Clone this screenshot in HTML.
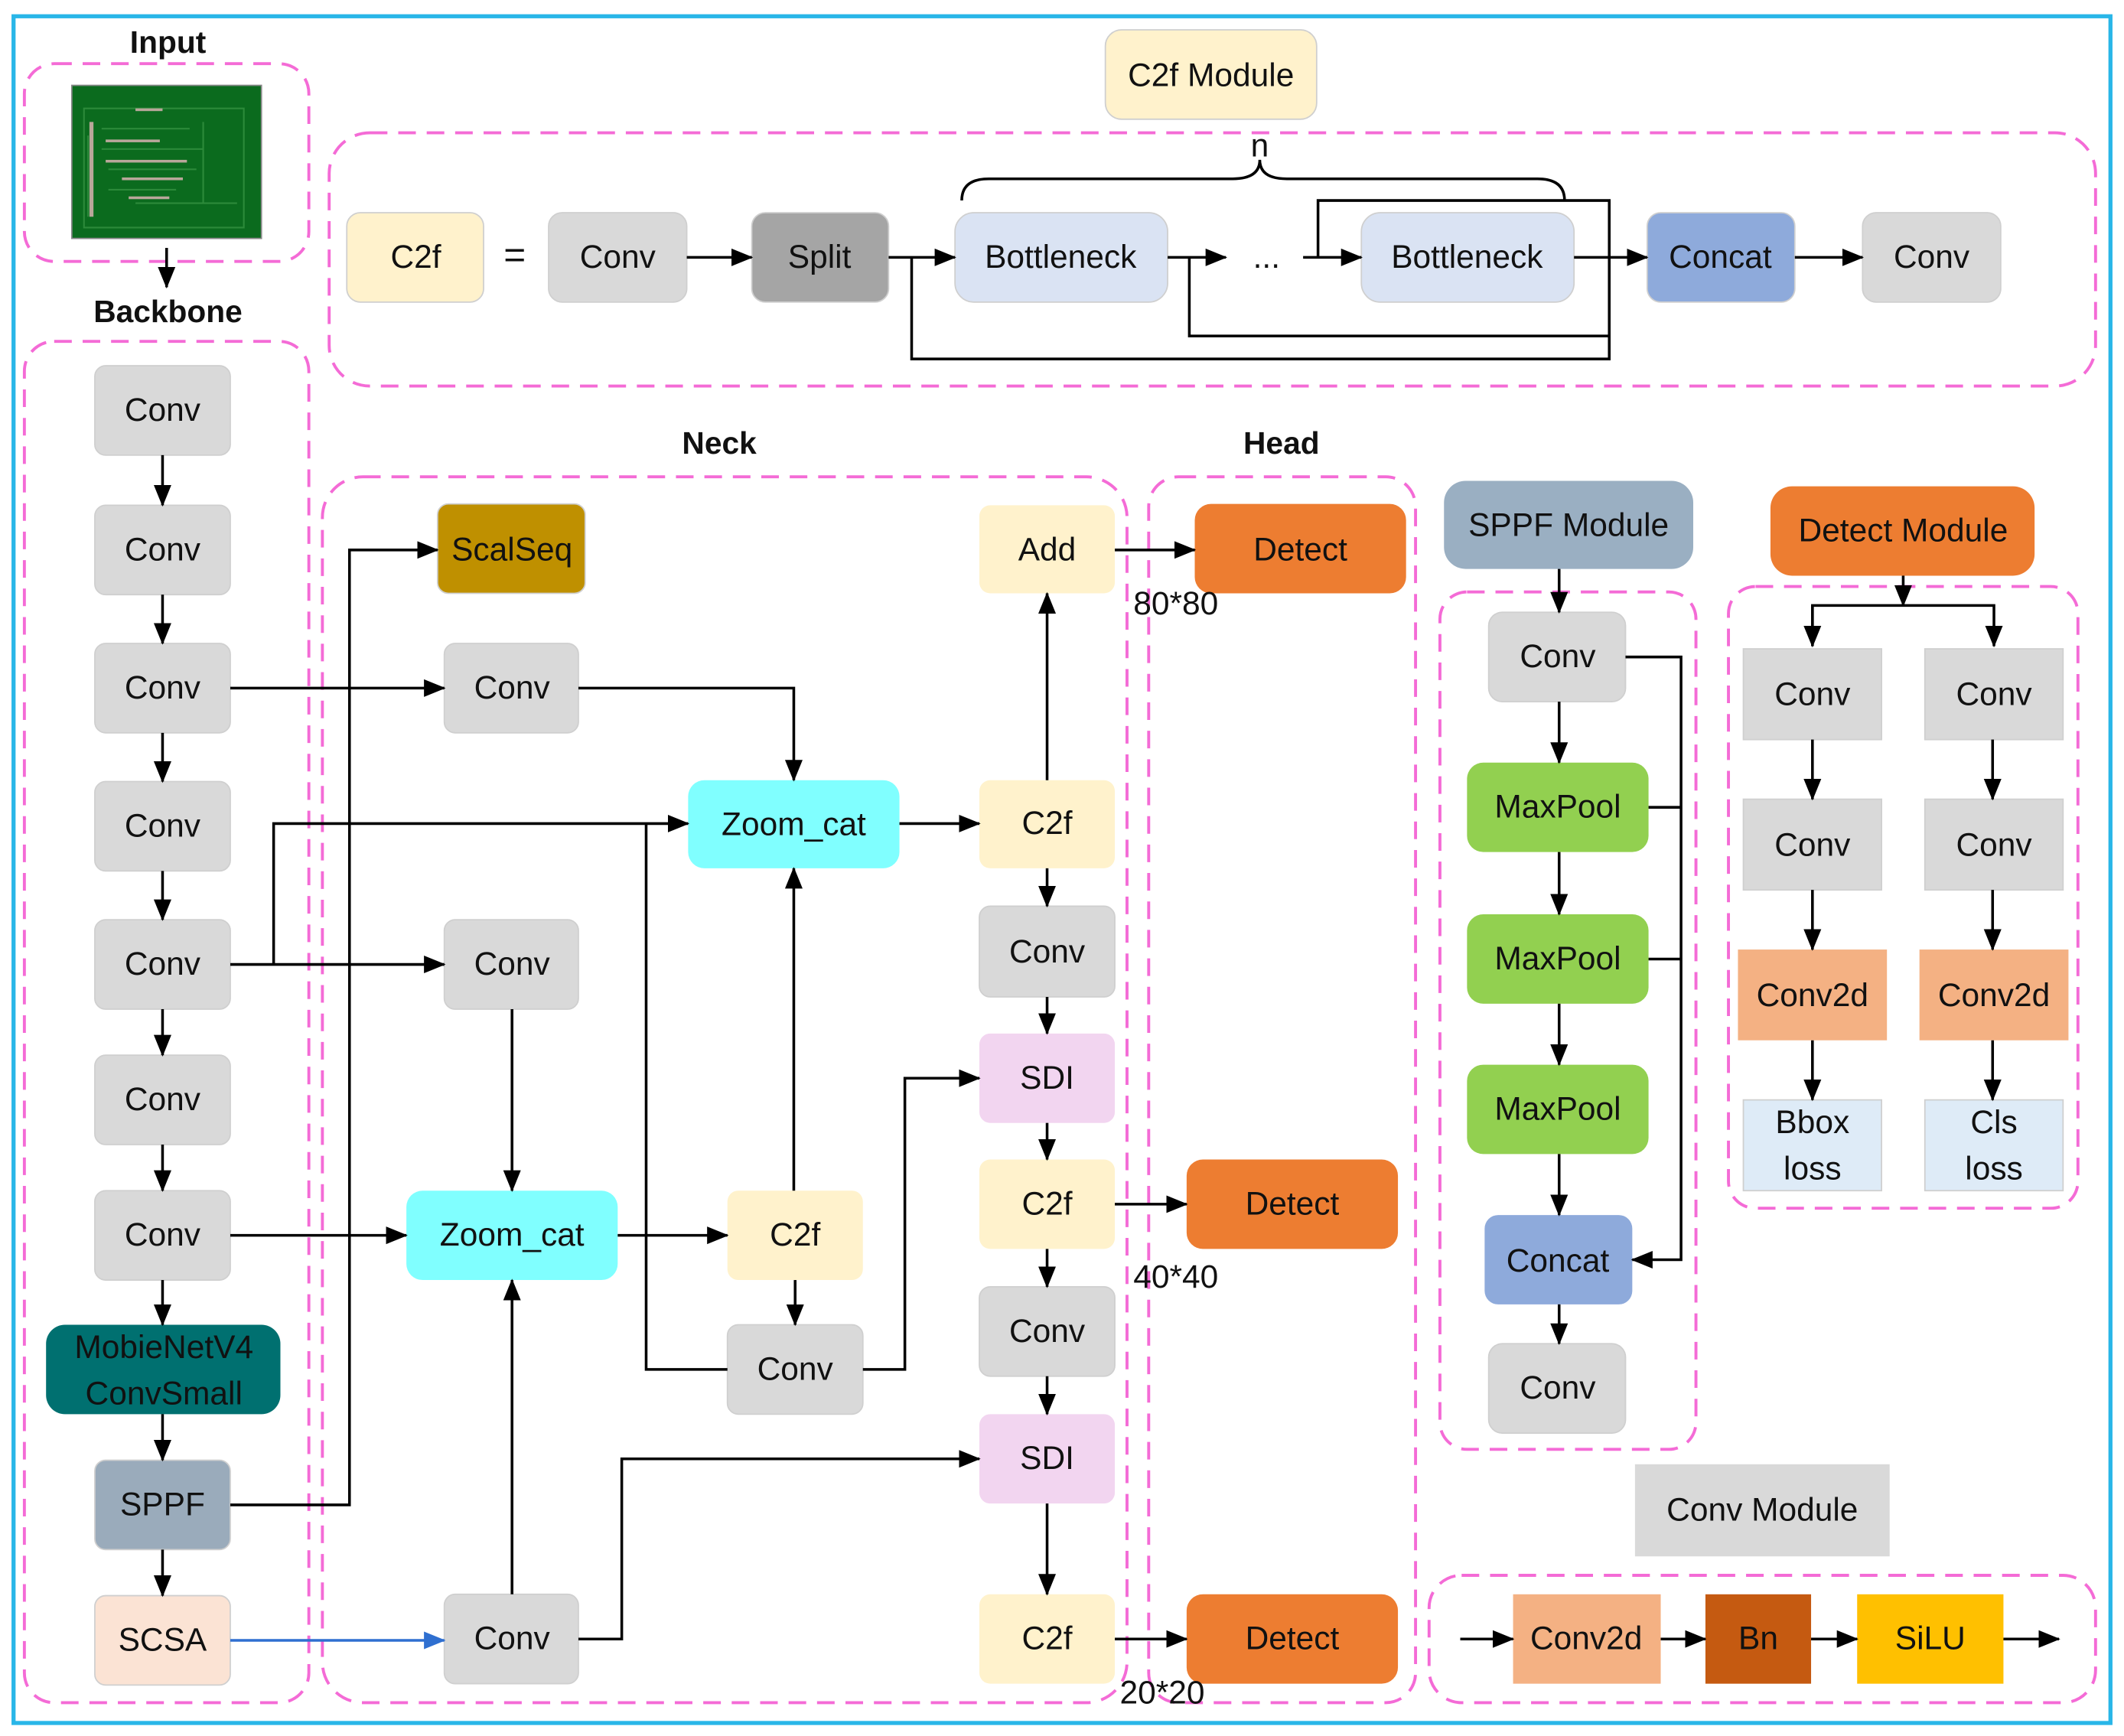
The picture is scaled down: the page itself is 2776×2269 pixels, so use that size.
<!DOCTYPE html>
<html><head><meta charset="utf-8"><style>
html,body{margin:0;padding:0;background:#fff;}
svg{display:block;}
text{font-family:"Liberation Sans",sans-serif;font-size:24px;fill:#111;text-anchor:middle;dominant-baseline:central;}
.t{font-weight:bold;font-size:23px;}
.d{fill:none;stroke:#f46bd6;stroke-width:2.2;stroke-dasharray:13 8;}
.l{fill:none;stroke:#000;stroke-width:2;}
.b{stroke:#cfcfcf;stroke-width:1;}
</style></head><body>
<svg width="2776" height="2269" viewBox="0 0 1568 1281.6" xmlns="http://www.w3.org/2000/svg">
<defs>
<marker id="a" markerWidth="16" markerHeight="16" refX="15" refY="8" orient="auto" markerUnits="userSpaceOnUse"><path d="M0,1.5 L16,8 L0,14.5 z" fill="#000"/></marker>
<marker id="ab" markerWidth="16" markerHeight="16" refX="15" refY="8" orient="auto" markerUnits="userSpaceOnUse"><path d="M0,1.5 L16,8 L0,14.5 z" fill="#2f6fd0"/></marker>
</defs>
<rect x="0" y="0" width="1568" height="1282" fill="#fff"/>
<rect x="10" y="12" width="1548" height="1260" fill="none" stroke="#29b6e8" stroke-width="3"/>

<text x="124" y="31" class="t">Input</text>
<text x="124" y="230" class="t">Backbone</text>
<text x="531" y="327" class="t">Neck</text>
<text x="946" y="327" class="t">Head</text>

<rect x="18" y="47" width="210" height="146" rx="22" class="d"/>
<rect x="18" y="252" width="210" height="1005" rx="22" class="d"/>
<rect x="243" y="98" width="1304" height="187" rx="30" class="d"/>
<rect x="238" y="352" width="594" height="905" rx="30" class="d"/>
<rect x="848" y="352" width="197" height="905" rx="22" class="d"/>
<rect x="1063" y="437" width="189" height="633" rx="20" class="d"/>
<rect x="1276" y="433" width="258" height="459" rx="20" class="d"/>
<rect x="1055" y="1163" width="492" height="94" rx="24" class="d"/>

<rect x="53" y="63" width="140" height="113" fill="#0b6b1e" stroke="#888" stroke-width="1"/>
<g stroke="#2c8a3a" stroke-width="1.2" fill="none">
<path d="M62,80 H180 V168 H62 Z M75,95 H140 M75,110 H150 M80,125 H145 M80,140 H130 M150,90 V150 H175 M100,150 H170 M65,100 V160"/>
</g>
<g fill="#b9a79a"><rect x="66" y="90" width="3" height="70"/><rect x="78" y="103" width="40" height="2"/><rect x="78" y="118" width="60" height="2"/><rect x="90" y="131" width="45" height="2"/><rect x="95" y="145" width="30" height="2"/><rect x="100" y="80" width="20" height="2"/></g>
<line x1="123" y1="183" x2="123" y2="212" class="l" marker-end="url(#a)"/>

<rect x="816" y="22" width="156" height="66" rx="12" fill="#fff2cc" class="b"/><text x="894" y="56">C2f Module</text>
<rect x="256" y="157" width="101" height="66" rx="10" fill="#fff2cc" class="b"/><text x="307" y="190">C2f</text>
<text x="380" y="188" style="font-size:28px">=</text>
<rect x="405" y="157" width="102" height="66" rx="10" fill="#d9d9d9" class="b"/><text x="456" y="190">Conv</text>
<rect x="555" y="157" width="101" height="66" rx="10" fill="#a5a5a5" class="b"/><text x="605" y="190">Split</text>
<rect x="705" y="157" width="157" height="66" rx="14" fill="#dae3f3" class="b"/><text x="783" y="190">Bottleneck</text>
<text x="935" y="190">...</text>
<rect x="1005" y="157" width="157" height="66" rx="14" fill="#dae3f3" class="b"/><text x="1083" y="190">Bottleneck</text>
<rect x="1216" y="157" width="109" height="66" rx="10" fill="#8eaadb" class="b"/><text x="1270" y="190">Concat</text>
<rect x="1375" y="157" width="102" height="66" rx="10" fill="#d9d9d9" class="b"/><text x="1426" y="190">Conv</text>
<path d="M710,148 Q710,132 730,132 H910 Q930,132 930,118 Q930,132 950,132 H1135 Q1155,132 1155,148" class="l"/>
<text x="930" y="108">n</text>
<line x1="507" y1="190" x2="555" y2="190" class="l" marker-end="url(#a)"/>
<line x1="656" y1="190" x2="705" y2="190" class="l" marker-end="url(#a)"/>
<line x1="862" y1="190" x2="905" y2="190" class="l" marker-end="url(#a)"/>
<line x1="962" y1="190" x2="1005" y2="190" class="l" marker-end="url(#a)"/>
<line x1="1162" y1="190" x2="1216" y2="190" class="l" marker-end="url(#a)"/>
<line x1="1325" y1="190" x2="1375" y2="190" class="l" marker-end="url(#a)"/>
<path d="M673,190 V265 H1188 V148 H973 V190" class="l"/>
<path d="M878,190 V248 H1188" class="l"/>

<g>
<rect x="70" y="270" width="100" height="66" rx="8" fill="#d9d9d9" class="b"/><text x="120" y="303">Conv</text>
<rect x="70" y="373" width="100" height="66" rx="8" fill="#d9d9d9" class="b"/><text x="120" y="406">Conv</text>
<rect x="70" y="475" width="100" height="66" rx="8" fill="#d9d9d9" class="b"/><text x="120" y="508">Conv</text>
<rect x="70" y="577" width="100" height="66" rx="8" fill="#d9d9d9" class="b"/><text x="120" y="610">Conv</text>
<rect x="70" y="679" width="100" height="66" rx="8" fill="#d9d9d9" class="b"/><text x="120" y="712">Conv</text>
<rect x="70" y="779" width="100" height="66" rx="8" fill="#d9d9d9" class="b"/><text x="120" y="812">Conv</text>
<rect x="70" y="879" width="100" height="66" rx="8" fill="#d9d9d9" class="b"/><text x="120" y="912">Conv</text>
<rect x="34" y="978" width="173" height="66" rx="14" fill="#007070"/><text x="121" y="995">MobieNetV4</text><text x="121" y="1029">ConvSmall</text>
<rect x="70" y="1078" width="100" height="66" rx="8" fill="#9aabbb" class="b"/><text x="120" y="1111">SPPF</text>
<rect x="70" y="1178" width="100" height="66" rx="8" fill="#fbe3d4" class="b"/><text x="120" y="1211">SCSA</text>
</g>
<g class="l">
<line x1="120" y1="336" x2="120" y2="373" marker-end="url(#a)"/>
<line x1="120" y1="439" x2="120" y2="475" marker-end="url(#a)"/>
<line x1="120" y1="541" x2="120" y2="577" marker-end="url(#a)"/>
<line x1="120" y1="643" x2="120" y2="679" marker-end="url(#a)"/>
<line x1="120" y1="745" x2="120" y2="779" marker-end="url(#a)"/>
<line x1="120" y1="845" x2="120" y2="879" marker-end="url(#a)"/>
<line x1="120" y1="945" x2="120" y2="978" marker-end="url(#a)"/>
<line x1="120" y1="1044" x2="120" y2="1078" marker-end="url(#a)"/>
<line x1="120" y1="1144" x2="120" y2="1178" marker-end="url(#a)"/>
</g>

<rect x="323" y="372" width="109" height="66" rx="8" fill="#bf9000" class="b"/><text x="378" y="406">ScalSeq</text>
<rect x="328" y="475" width="99" height="66" rx="8" fill="#d9d9d9" class="b"/><text x="378" y="508">Conv</text>
<rect x="508" y="576" width="156" height="65" rx="12" fill="#80ffff"/><text x="586" y="609">Zoom_cat</text>
<rect x="723" y="373" width="100" height="65" rx="8" fill="#fff2cc"/><text x="773" y="406">Add</text>
<rect x="723" y="576" width="100" height="65" rx="8" fill="#fff2cc"/><text x="773" y="608">C2f</text>
<rect x="328" y="679" width="99" height="66" rx="8" fill="#d9d9d9" class="b"/><text x="378" y="712">Conv</text>
<rect x="723" y="669" width="100" height="67" rx="8" fill="#d9d9d9" class="b"/><text x="773" y="703">Conv</text>
<rect x="723" y="763" width="100" height="66" rx="8" fill="#f2d5f0"/><text x="773" y="796">SDI</text>
<rect x="723" y="856" width="100" height="66" rx="8" fill="#fff2cc"/><text x="773" y="889">C2f</text>
<rect x="300" y="879" width="156" height="66" rx="12" fill="#80ffff"/><text x="378" y="912">Zoom_cat</text>
<rect x="537" y="879" width="100" height="66" rx="8" fill="#fff2cc"/><text x="587" y="912">C2f</text>
<rect x="537" y="978" width="100" height="66" rx="8" fill="#d9d9d9" class="b"/><text x="587" y="1011">Conv</text>
<rect x="723" y="950" width="100" height="66" rx="8" fill="#d9d9d9" class="b"/><text x="773" y="983">Conv</text>
<rect x="723" y="1044" width="100" height="66" rx="8" fill="#f2d5f0"/><text x="773" y="1077">SDI</text>
<rect x="723" y="1177" width="100" height="66" rx="8" fill="#fff2cc"/><text x="773" y="1210">C2f</text>
<rect x="328" y="1177" width="99" height="66" rx="8" fill="#d9d9d9" class="b"/><text x="378" y="1210">Conv</text>
<rect x="882" y="372" width="156" height="66" rx="12" fill="#ed7d31"/><text x="960" y="406">Detect</text>
<rect x="876" y="856" width="156" height="66" rx="12" fill="#ed7d31"/><text x="954" y="889">Detect</text>
<rect x="876" y="1177" width="156" height="66" rx="12" fill="#ed7d31"/><text x="954" y="1210">Detect</text>
<text x="868" y="446">80*80</text>
<text x="868" y="943">40*40</text>
<text x="858" y="1250">20*20</text>

<g class="l">
<line x1="170" y1="508" x2="328" y2="508" marker-end="url(#a)"/>
<path d="M427,508 H586 V576" marker-end="url(#a)"/>
<line x1="170" y1="712" x2="328" y2="712" marker-end="url(#a)"/>
<path d="M202,712 V608 H508" marker-end="url(#a)"/>
<line x1="664" y1="608" x2="723" y2="608" marker-end="url(#a)"/>
<path d="M170,1111 H258 V406 H323" marker-end="url(#a)"/>
<line x1="378" y1="745" x2="378" y2="879" marker-end="url(#a)"/>
<line x1="170" y1="912" x2="300" y2="912" marker-end="url(#a)"/>
<line x1="378" y1="1177" x2="378" y2="945" marker-end="url(#a)"/>
<path d="M427,1210 H459 V1077 H723" marker-end="url(#a)"/>
<line x1="456" y1="912" x2="537" y2="912" marker-end="url(#a)"/>
<line x1="586" y1="879" x2="586" y2="641" marker-end="url(#a)"/>
<line x1="587" y1="945" x2="587" y2="978" marker-end="url(#a)"/>
<path d="M637,1011 H668 V796 H723" marker-end="url(#a)"/>
<path d="M537,1011 H477 V608"/>
<line x1="773" y1="641" x2="773" y2="669" marker-end="url(#a)"/>
<line x1="773" y1="736" x2="773" y2="763" marker-end="url(#a)"/>
<line x1="773" y1="829" x2="773" y2="856" marker-end="url(#a)"/>
<line x1="773" y1="922" x2="773" y2="950" marker-end="url(#a)"/>
<line x1="773" y1="1016" x2="773" y2="1044" marker-end="url(#a)"/>
<line x1="773" y1="1110" x2="773" y2="1177" marker-end="url(#a)"/>
<line x1="773" y1="576" x2="773" y2="438" marker-end="url(#a)"/>
<line x1="823" y1="406" x2="882" y2="406" marker-end="url(#a)"/>
<line x1="823" y1="889" x2="876" y2="889" marker-end="url(#a)"/>
<line x1="823" y1="1210" x2="876" y2="1210" marker-end="url(#a)"/>
</g>
<line x1="170" y1="1211" x2="328" y2="1211" stroke="#2f6fd0" stroke-width="2" marker-end="url(#ab)"/>

<rect x="1066" y="355" width="184" height="65" rx="16" fill="#9aafc2"/><text x="1158" y="388">SPPF Module</text>
<rect x="1099" y="452" width="101" height="66" rx="10" fill="#d9d9d9" class="b"/><text x="1150" y="485">Conv</text>
<rect x="1083" y="563" width="134" height="66" rx="12" fill="#92d050"/><text x="1150" y="596">MaxPool</text>
<rect x="1083" y="675" width="134" height="66" rx="12" fill="#92d050"/><text x="1150" y="708">MaxPool</text>
<rect x="1083" y="786" width="134" height="66" rx="12" fill="#92d050"/><text x="1150" y="819">MaxPool</text>
<rect x="1096" y="897" width="109" height="66" rx="10" fill="#8eaadb"/><text x="1150" y="931">Concat</text>
<rect x="1099" y="992" width="101" height="66" rx="10" fill="#d9d9d9" class="b"/><text x="1150" y="1025">Conv</text>
<g class="l">
<line x1="1151" y1="420" x2="1151" y2="452" marker-end="url(#a)"/>
<line x1="1151" y1="518" x2="1151" y2="563" marker-end="url(#a)"/>
<line x1="1151" y1="629" x2="1151" y2="675" marker-end="url(#a)"/>
<line x1="1151" y1="741" x2="1151" y2="786" marker-end="url(#a)"/>
<line x1="1151" y1="852" x2="1151" y2="897" marker-end="url(#a)"/>
<line x1="1151" y1="963" x2="1151" y2="992" marker-end="url(#a)"/>
<path d="M1200,485 H1241 V930 H1205" marker-end="url(#a)"/>
<path d="M1217,596 H1241 M1217,708 H1241"/>
</g>

<rect x="1307" y="359" width="195" height="66" rx="16" fill="#ed7d31"/><text x="1405" y="392">Detect Module</text>
<g>
<rect x="1287" y="479" width="102" height="67" fill="#d9d9d9" class="b"/><text x="1338" y="513">Conv</text>
<rect x="1421" y="479" width="102" height="67" fill="#d9d9d9" class="b"/><text x="1472" y="513">Conv</text>
<rect x="1287" y="590" width="102" height="67" fill="#d9d9d9" class="b"/><text x="1338" y="624">Conv</text>
<rect x="1421" y="590" width="102" height="67" fill="#d9d9d9" class="b"/><text x="1472" y="624">Conv</text>
<rect x="1283" y="701" width="110" height="67" fill="#f4b183"/><text x="1338" y="735">Conv2d</text>
<rect x="1417" y="701" width="110" height="67" fill="#f4b183"/><text x="1472" y="735">Conv2d</text>
<rect x="1287" y="812" width="102" height="67" fill="#deebf7" class="b"/><text x="1338" y="829">Bbox</text><text x="1338" y="863">loss</text>
<rect x="1421" y="812" width="102" height="67" fill="#deebf7" class="b"/><text x="1472" y="829">Cls</text><text x="1472" y="863">loss</text>
</g>
<g class="l">
<line x1="1405" y1="425" x2="1405" y2="447" marker-end="url(#a)"/>
<path d="M1338,477 V447 H1472 V477" marker-end="url(#a)"/>
<line x1="1338" y1="447" x2="1338" y2="477" marker-end="url(#a)"/>
<line x1="1338" y1="546" x2="1338" y2="590" marker-end="url(#a)"/>
<line x1="1471" y1="546" x2="1471" y2="590" marker-end="url(#a)"/>
<line x1="1338" y1="657" x2="1338" y2="701" marker-end="url(#a)"/>
<line x1="1471" y1="657" x2="1471" y2="701" marker-end="url(#a)"/>
<line x1="1338" y1="768" x2="1338" y2="812" marker-end="url(#a)"/>
<line x1="1471" y1="768" x2="1471" y2="812" marker-end="url(#a)"/>
</g>

<rect x="1207" y="1081" width="188" height="68" fill="#d9d9d9"/><text x="1301" y="1115">Conv Module</text>
<rect x="1117" y="1177" width="109" height="66" fill="#f4b183"/><text x="1171" y="1210">Conv2d</text>
<rect x="1259" y="1177" width="78" height="66" fill="#c55a11"/><text x="1298" y="1210">Bn</text>
<rect x="1371" y="1177" width="108" height="66" fill="#ffc000"/><text x="1425" y="1210">SiLU</text>
<g class="l">
<line x1="1078" y1="1210" x2="1117" y2="1210" marker-end="url(#a)"/>
<line x1="1226" y1="1210" x2="1259" y2="1210" marker-end="url(#a)"/>
<line x1="1337" y1="1210" x2="1371" y2="1210" marker-end="url(#a)"/>
<line x1="1479" y1="1210" x2="1520" y2="1210" marker-end="url(#a)"/>
</g>
</svg>
</body></html>
